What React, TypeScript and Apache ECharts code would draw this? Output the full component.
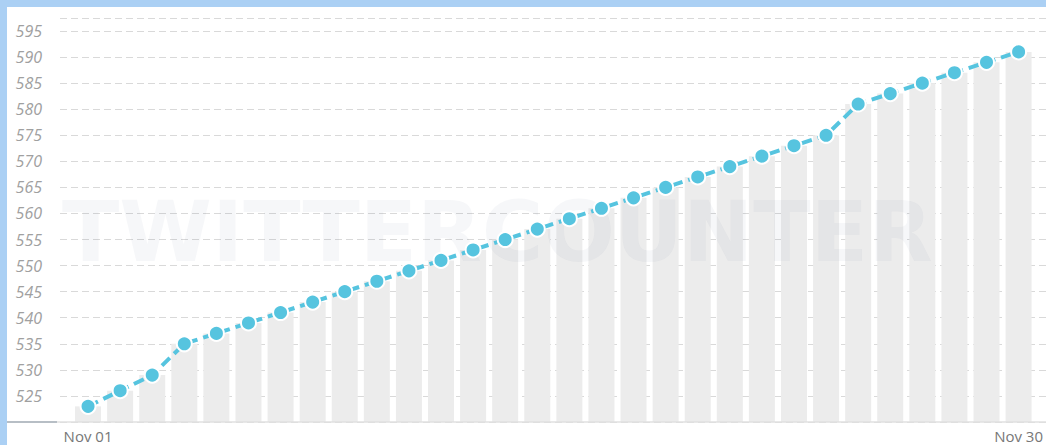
import React, { useEffect, useRef } from "react";
import * as echarts from "echarts";

const days = [
  "Nov 01", "Nov 02", "Nov 03", "Nov 04", "Nov 05", "Nov 06", "Nov 07", "Nov 08", "Nov 09", "Nov 10",
  "Nov 11", "Nov 12", "Nov 13", "Nov 14", "Nov 15", "Nov 16", "Nov 17", "Nov 18", "Nov 19", "Nov 20",
  "Nov 21", "Nov 22", "Nov 23", "Nov 24", "Nov 25", "Nov 26", "Nov 27", "Nov 28", "Nov 29", "Nov 30",
];
const followers = [
  523, 526, 529, 535, 537, 539, 541, 543, 545, 547,
  549, 551, 553, 555, 557, 559, 561, 563, 565, 567,
  569, 571, 573, 575, 581, 583, 585, 587, 589, 591,
];
const shownXLabels = ["Nov 01", "Nov 30"];
const yMin = 520;
const yMax = 597.5;
const yStep = 5;

export default function App() {
  const ref = useRef<HTMLDivElement>(null);
  useEffect(() => {
    if (!ref.current) return;
    const chart = echarts.init(ref.current, null, { renderer: "svg" });
    const gridTop = 18;
    const gridBottom = 23;
    chart.setOption({
      animation: false,
      backgroundColor: "#ffffff",
      grid: [
        { left: 60, right: 0, top: gridTop, bottom: gridBottom },
        { left: 72, right: 10, top: gridTop, bottom: gridBottom },
      ],
      xAxis: [
        { gridIndex: 0, type: "value", show: false, min: 0, max: 1 },
        {
          gridIndex: 1,
          type: "category",
          data: days,
          boundaryGap: true,
          axisLine: { show: false },
          axisTick: { show: false },
          axisLabel: {
            interval: (i: number, v: string) => shownXLabels.includes(v),
            color: "#777777",
            fontFamily: "Open Sans, sans-serif",
            fontSize: 15,
            margin: 6,
          },
        },
      ],
      yAxis: [
        {
          gridIndex: 0,
          type: "value",
          min: yMin,
          max: yMax,
          interval: yStep,
          axisLine: { show: false },
          axisTick: { show: false },
          axisLabel: {
            showMinLabel: false,
            formatter: (v: number) => (v % yStep === 0 ? String(v) : ""),
            color: "#a0a0a0",
            fontStyle: "italic",
            fontFamily: "Open Sans, sans-serif",
            fontSize: 16,
            margin: 18,
          },
          splitLine: { lineStyle: { color: "#d9d9d9", type: [7, 4], width: 1 } },
        },
        { gridIndex: 1, type: "value", min: yMin, max: yMax, show: false, splitLine: { show: false } },
      ],
      graphic: [
        { type: "rect", left: 0, top: 0, shape: { width: 1046, height: 7 }, style: { fill: "#abd0f4" }, z: 100 },
        { type: "rect", left: 0, top: 0, shape: { width: 7, height: 445 }, style: { fill: "#abd0f4" }, z: 100 },
        { type: "line", shape: { x1: 7, y1: 422, x2: 57, y2: 422 }, style: { stroke: "#b7bec5", lineWidth: 2 }, z: 100 },
        { type: "line", shape: { x1: 57, y1: 422, x2: 1046, y2: 422 }, style: { stroke: "#e0e0e0", lineWidth: 1.5 }, z: 100 },
        {
          type: "text",
          left: 62,
          top: 190,
          z: 50,
          style: {
            text: "TWITTERCOUNTER",
            font: "bold 84px 'DejaVu Sans', sans-serif",
            fill: "rgba(70,100,130,0.05)",
          },
        },
      ],
      series: [
        {
          type: "bar",
          xAxisIndex: 1,
          yAxisIndex: 1,
          data: followers,
          barWidth: 26,
          itemStyle: { color: "#ececec" },
          silent: true,
          z: 1,
        },
        {
          type: "line",
          xAxisIndex: 1,
          yAxisIndex: 1,
          data: followers,
          symbol: "circle",
          symbolSize: 15,
          lineStyle: { color: "#56c4df", width: 4, type: [11, 6] },
          itemStyle: { color: "#56c4df", borderColor: "#ffffff", borderWidth: 2 },
          z: 60,
        },
      ],
    });
    return () => chart.dispose();
  }, []);
  return (
    <div
      ref={ref}
      style={{ position: "fixed", left: 0, top: 0, width: 1046, height: 445, background: "#fff" }}
    />
  );
}
